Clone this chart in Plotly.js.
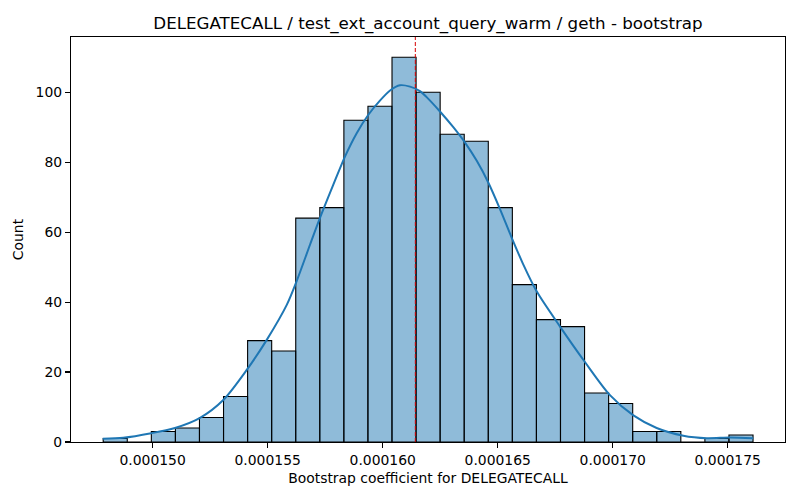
<!DOCTYPE html>
<html>
<head>
<meta charset="utf-8">
<script src="https://cdn.plot.ly/plotly-3.0.1.min.js"></script>
<style>
  body { margin: 0; background: #fff; }
  #chart { width: 800px; height: 500px; }
</style>
</head>
<body>
<div id="chart"></div>
<script>
// histogram bins
var binStart = 0.00014785;
var binWidth = 0.0000010463;
var counts = [1, 0, 3, 4, 7, 13, 29, 26, 64, 67, 92, 96, 110, 100, 88, 86, 67, 45, 35, 33, 14, 11, 3, 3, 0, 1, 2];

// kde curve points (x in units of 1e-6), read by eye
var kdeX = [147.83, 148.72, 149.94, 150.97, 152.06, 153.07, 154.09, 154.96, 155.83, 156.26,
            156.84, 157.27, 157.85, 158.36, 158.87, 159.37, 159.88, 160.32, 160.75, 161.19,
            161.62, 161.91, 162.49, 163.07, 163.58, 164.09, 164.59, 165.10, 165.61, 166.11,
            166.70, 167.71, 168.80, 169.88, 170.90, 171.91, 173.07, 174.09, 175.10, 176.11];
var kdeY = [0.9, 1.2, 2.5, 4.0, 6.9, 12.0, 20.6, 29.2, 39.2, 46.0,
            56.4, 64.0, 73.5, 81.6, 88.3, 93.5, 97.6, 100.5, 102.0, 101.6,
            100.3, 98.6, 94.5, 90.0, 85.6, 80.4, 74.2, 66.6, 58.4, 50.8,
            43.0, 33.0, 22.8, 13.4, 7.6, 4.0, 1.8, 1.1, 1.3, 1.1];

var meanValue = 0.00016142;

var xTicks = [0.000150, 0.000155, 0.000160, 0.000165, 0.000170, 0.000175];
var yTicks = [0, 20, 40, 60, 80, 100];

var barX = [];
for (var i = 0; i < counts.length; i++) {
  barX.push(binStart + (i + 0.5) * binWidth);
}
var lineX = kdeX.map(function (v) { return v * 1e-6; });

var bars = {
  type: 'bar',
  x: barX,
  y: counts,
  width: binWidth,
  marker: {
    color: 'rgba(31,119,180,0.5)',
    line: { color: '#000', width: 1.1 }
  },
  hoverinfo: 'x+y'
};

var kde = {
  type: 'scatter',
  mode: 'lines',
  x: lineX,
  y: kdeY,
  line: { color: '#1f77b4', width: 2, shape: 'spline', smoothing: 0.8 }
};

var font = 'DejaVu Sans, sans-serif';

var layout = {
  width: 800,
  height: 500,
  margin: { l: 71, r: 15, t: 37, b: 58 },
  paper_bgcolor: '#fff',
  plot_bgcolor: '#fff',
  showlegend: false,
  bargap: 0,
  font: { family: font, size: 13.9, color: '#000' },
  title: {
    text: 'DELEGATECALL / test_ext_account_query_warm / geth - bootstrap',
    font: { family: font, size: 16.7, color: '#000' },
    x: 0.5, xref: 'paper', xanchor: 'center',
    y: 1, yref: 'paper', yanchor: 'bottom', pad: { b: 8 }
  },
  xaxis: {
    range: [0.00014645, 0.00017749],
    tickvals: xTicks,
    ticktext: xTicks.map(function (v) { return v.toFixed(6); }),
    ticks: 'outside', ticklen: 5, tickwidth: 1.1, tickcolor: '#000',
    showgrid: false, zeroline: false,
    showline: true, mirror: true, linecolor: '#000', linewidth: 1.1,
    title: { text: 'Bootstrap coefficient for DELEGATECALL', font: { family: font, size: 13.9 }, standoff: 6 }
  },
  yaxis: {
    range: [0, 115.8],
    tickvals: yTicks,
    ticks: 'outside', ticklen: 5, tickwidth: 1.1, tickcolor: '#000',
    showgrid: false, zeroline: false,
    showline: true, mirror: true, linecolor: '#000', linewidth: 1.1,
    title: { text: 'Count', font: { family: font, size: 13.9 }, standoff: 8 }
  },
  shapes: [{
    type: 'line', xref: 'x', yref: 'paper',
    x0: meanValue, x1: meanValue, y0: 0, y1: 1,
    line: { color: 'rgba(214,0,0,0.9)', width: 1.1, dash: '4px,2px' }
  }]
};

Plotly.newPlot('chart', [bars, kde], layout, { displayModeBar: false, staticPlot: true });
</script>
</body>
</html>
